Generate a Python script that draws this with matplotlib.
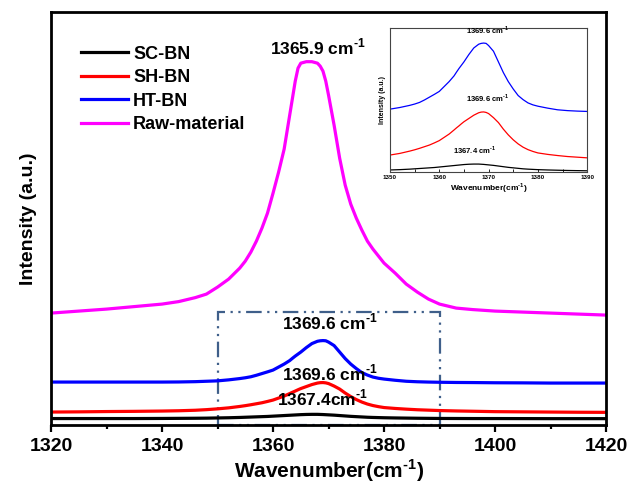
import matplotlib
matplotlib.use("Agg")
import matplotlib.pyplot as plt
from matplotlib.patches import Rectangle
from matplotlib.ticker import MultipleLocator

plt.rcParams['font.family'] = ['Liberation Sans', 'DejaVu Sans']
plt.rcParams['font.weight'] = 'bold'
plt.rcParams['mathtext.fontset'] = 'custom'
plt.rcParams['mathtext.rm'] = 'Liberation Sans:bold'
plt.rcParams['mathtext.bf'] = 'Liberation Sans:bold'

# shared wavenumber grid (cm-1) and intensities (a.u.)
wavenumber = [1320, 1325, 1330, 1335, 1340, 1343, 1346, 1348, 1350,
              1352, 1354, 1355, 1356, 1357, 1358, 1359, 1360,
              1361, 1362, 1363, 1363.5, 1364, 1364.5, 1365,
              1366, 1367, 1368, 1368.5, 1369, 1369.5, 1370,
              1371, 1372, 1373, 1374, 1375, 1376, 1377, 1378, 1379, 1380,
              1382, 1384, 1386, 1388, 1390,
              1393, 1396, 1400, 1405, 1410, 1415, 1420]
sc_bn = [6.5, 6.5, 6.5, 6.5, 6.6, 6.7, 6.8, 6.9, 7.1,
         7.3, 7.6, 7.8, 8.0, 8.2, 8.4, 8.6, 8.9,
         9.2, 9.5, 9.8, 9.95, 10.1, 10.25, 10.4,
         10.6, 10.7, 10.7, 10.6, 10.5, 10.35, 10.2,
         9.9, 9.5, 9.1, 8.7, 8.4, 8.1, 7.8, 7.6, 7.45, 7.3,
         7.1, 6.95, 6.8, 6.7, 6.6,
         6.55, 6.5, 6.5, 6.45, 6.4, 6.4, 6.4]
sh_bn = [13, 13.2, 13.5, 13.7, 14, 14.3, 14.8, 15.4, 16.2,
         17.2, 18.6, 19.4, 20.3, 21.3, 22.3, 23.6, 25,
         27, 29, 31.5, 32.8, 34, 35.3, 36.5,
         38.5, 40.5, 42, 42.4, 42.5, 42.2, 41.5,
         39, 36, 32, 28.5, 25.5, 23, 21, 19.5, 18.4, 17.5,
         16.6, 15.9, 15.3, 14.9, 14.5,
         14.1, 13.8, 13.4, 13.2, 13, 12.8, 12.7]
ht_bn = [43, 43, 43, 43, 43, 43.1, 43.4, 43.8, 44.2,
         45.2, 46.5, 47.3, 48.3, 49.8, 51.5, 53.2, 55,
         58, 61, 64.5, 66.8, 69, 71, 73,
         77.5, 81.5, 83.8, 84.3, 84.5, 84.3, 83,
         79.5, 73, 66.5, 61, 56.5, 52.5, 50, 48, 46.8, 46,
         44.8, 43.8, 43.3, 43, 42.8,
         42.6, 42.5, 42.3, 42.2, 42, 42, 42]
raw_material = [112, 114, 116, 118.5, 121, 123.5, 127.5, 131, 138,
                146, 157, 164, 173, 184, 197, 212, 232,
                253, 276, 310, 327, 344, 357, 362,
                363.5, 363.5, 362, 359, 354, 344, 330,
                300, 267, 240, 221, 207, 195, 184, 176, 169, 162,
                152, 141, 133, 126, 121,
                117, 115.5, 114, 113, 112, 111, 110]

series_names = ['SC-BN', 'SH-BN', 'HT-BN', 'Raw-material']
series_colors = ['black', 'red', 'blue', 'magenta']

# peak labels: text, x, y
peak_labels = ['1367.4cm', '1369.6 cm', '1369.6 cm', '1365.9 cm']
peak_label_x = [1368.9, 1370.3, 1370.3, 1368.0]
peak_label_y = [27, 52, 103, 378]

inset_labels = ['1367.4 cm', '1369.6 cm', '1369.6 cm']
inset_label_x = [1367.2, 1369.8, 1369.8]
inset_label_y = [15.5, 47.5, 89]

zoom_x = [1350, 1390]
zoom_top = 113

SUP = r'$^{\text{-1}}$'

fig = plt.figure(figsize=(6.3, 4.88), dpi=100)
ax = fig.add_axes([0.081, 0.129, 0.881, 0.846])

data = [sc_bn, sh_bn, ht_bn, raw_material]
for vals, name, col in zip(data, series_names, series_colors):
    ax.plot(wavenumber, vals, color=col, lw=2.3, label=name, solid_joinstyle='round')

for t, x, y in zip(peak_labels, peak_label_x, peak_label_y):
    ax.text(x, y, t + SUP, ha='center', va='center', fontsize=12.5, fontweight='bold')

box = Rectangle((zoom_x[0], 0), zoom_x[1] - zoom_x[0], zoom_top, fill=False,
                ec='#3f5f8a', lw=1.6, ls=(0, (7, 2.5, 1, 2.5, 1, 2.5)), clip_on=False, zorder=1)
ax.add_patch(box)

ax.set_xlim(1320, 1420)
ax.set_ylim(0, 413)
ax.xaxis.set_major_locator(MultipleLocator(20))
ax.xaxis.set_minor_locator(MultipleLocator(10))
ax.set_yticks([])
ax.tick_params(axis='x', which='major', direction='out', length=5, width=1.6,
               labelsize=14, pad=4)
ax.tick_params(axis='x', which='minor', direction='out', length=3, width=1.6)
for lab in ax.get_xticklabels():
    lab.set_fontweight('bold')
for s in ax.spines.values():
    s.set_linewidth(2)
ax.set_xlabel('Wavenumber(cm' + SUP + ')', fontsize=15, fontweight='bold', labelpad=2)
ax.set_ylabel('Intensity (a.u.)', fontsize=14, fontweight='bold', labelpad=10)

leg = ax.legend(loc='upper left', bbox_to_anchor=(0.024, 0.958), frameon=False,
                prop={'size': 13, 'weight': 'bold'}, handlelength=2.6,
                handletextpad=0.3, labelspacing=0.36)

# inset
ins = fig.add_axes([0.619, 0.648, 0.313, 0.294])
for vals, col in zip(data[:3], series_colors[:3]):
    ins.plot(wavenumber, vals, color=col, lw=0.9)
for t, x, y in zip(inset_labels, inset_label_x, inset_label_y):
    ins.text(x, y, t + SUP, ha='center', va='bottom', fontsize=5.5, fontweight='bold')
ins.set_xlim(1350, 1390)
ins.set_ylim(6, 93.5)
ins.xaxis.set_major_locator(MultipleLocator(10))
ins.xaxis.set_minor_locator(MultipleLocator(5))
ins.set_yticks([])
ins.tick_params(axis='x', which='both', direction='in', length=2, width=0.6,
                labelsize=4.5, pad=2)
for s in ins.spines.values():
    s.set_linewidth(0.8)
    s.set_color('#444444')
ins.set_xlabel('Wavenumber(cm' + SUP + ')', fontsize=6, fontweight='bold', labelpad=1)
ins.set_ylabel('Intensity (a.u.)', fontsize=5, fontweight='bold', labelpad=3)

fig.savefig('out.png', dpi=100)
